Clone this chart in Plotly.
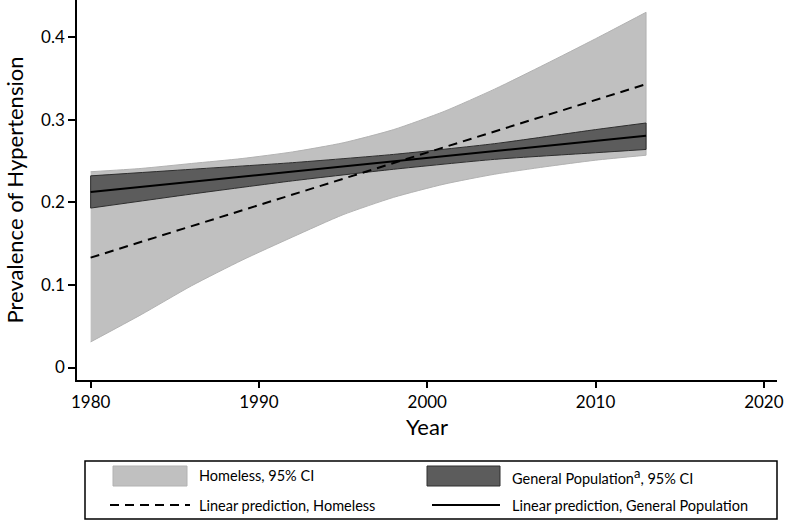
import plotly.graph_objects as go

# ---------------- data ----------------
band_years = [1980, 1983, 1986, 1989, 1992, 1995, 1998, 2001, 2004, 2007, 2010, 2013]
homeless_upper = [0.237, 0.241, 0.247, 0.253, 0.261, 0.272, 0.288, 0.310, 0.337, 0.367, 0.398, 0.430]
homeless_lower = [0.031, 0.064, 0.099, 0.130, 0.158, 0.185, 0.206, 0.222, 0.234, 0.243, 0.251, 0.257]

gen_years = [1980, 1986, 1992, 1998, 2004, 2010, 2013]
gen_upper = [0.232, 0.240, 0.248, 0.258, 0.271, 0.288, 0.296]
gen_lower = [0.193, 0.210, 0.226, 0.240, 0.252, 0.260, 0.264]

pred_years = [1980, 2013]
homeless_pred = [0.133, 0.343]
gen_pred = [0.2125, 0.2805]

x_ticks = [1980, 1990, 2000, 2010, 2020]
y_ticks = [0, 0.1, 0.2, 0.3, 0.4]
y_ticklabels = ["0", "0.1", "0.2", "0.3", "0.4"]

legend_labels = ["Homeless, 95% CI",
                 "General Population<sup><span style='font-size:13px'>a</span></sup>, 95% CI",
                 "Linear prediction, Homeless", "Linear prediction, General Population"]

# ---------------- styling ----------------
FONT = "Lato"
LIGHT = "#c0c0c0"
LIGHT_EDGE = "#b2b2b2"
DARK = "#5c5c5c"
DARK_EDGE = "#2e2e2e"

W, H = 785, 523
ML, MR, MT, MB = 77, 8, 0, 143
PW, PH = W - ML - MR, H - MT - MB


def px_x(px):
    return (px - ML) / PW


def px_y(py):
    return (MT + PH - py) / PH


fig = go.Figure()

# Homeless CI band
fig.add_trace(go.Scatter(x=band_years, y=homeless_lower, mode="lines",
                         line=dict(color=LIGHT_EDGE, width=1, shape="spline", smoothing=0.6),
                         showlegend=False, hoverinfo="skip"))
fig.add_trace(go.Scatter(x=band_years, y=homeless_upper, mode="lines", fill="tonexty",
                         fillcolor=LIGHT,
                         line=dict(color=LIGHT_EDGE, width=1, shape="spline", smoothing=0.6),
                         showlegend=False, hoverinfo="skip"))
fig.add_trace(go.Scatter(x=[band_years[-1], band_years[-1]], y=[homeless_lower[-1], homeless_upper[-1]],
                         mode="lines", line=dict(color=LIGHT_EDGE, width=1),
                         showlegend=False, hoverinfo="skip"))

# General population CI band
fig.add_trace(go.Scatter(x=gen_years, y=gen_lower, mode="lines",
                         line=dict(color=DARK_EDGE, width=1, shape="spline", smoothing=0.6),
                         showlegend=False, hoverinfo="skip"))
fig.add_trace(go.Scatter(x=gen_years, y=gen_upper, mode="lines", fill="tonexty",
                         fillcolor=DARK,
                         line=dict(color=DARK_EDGE, width=1, shape="spline", smoothing=0.6),
                         showlegend=False, hoverinfo="skip"))
fig.add_trace(go.Scatter(x=[gen_years[0], gen_years[0]], y=[gen_lower[0], gen_upper[0]],
                         mode="lines", line=dict(color=DARK_EDGE, width=1),
                         showlegend=False, hoverinfo="skip"))
fig.add_trace(go.Scatter(x=[gen_years[-1], gen_years[-1]], y=[gen_lower[-1], gen_upper[-1]],
                         mode="lines", line=dict(color=DARK_EDGE, width=1),
                         showlegend=False, hoverinfo="skip"))

# Linear predictions
fig.add_trace(go.Scatter(x=pred_years, y=homeless_pred, mode="lines",
                         line=dict(color="black", width=2, dash="9px,6px"),
                         showlegend=False, hoverinfo="skip"))
fig.add_trace(go.Scatter(x=pred_years, y=gen_pred, mode="lines",
                         line=dict(color="black", width=2),
                         showlegend=False, hoverinfo="skip"))

# ---------------- manual legend ----------------
shapes = []
shapes.append(dict(type="rect", xref="paper", yref="paper",
                   x0=px_x(85), x1=px_x(777), y0=px_y(519), y1=px_y(461),
                   line=dict(color="black", width=1.5), fillcolor="white", layer="above"))
shapes.append(dict(type="rect", xref="paper", yref="paper",
                   x0=px_x(113), x1=px_x(187), y0=px_y(486), y1=px_y(466),
                   line=dict(color=LIGHT_EDGE, width=1), fillcolor=LIGHT, layer="above"))
shapes.append(dict(type="rect", xref="paper", yref="paper",
                   x0=px_x(427), x1=px_x(500), y0=px_y(486), y1=px_y(466),
                   line=dict(color=DARK_EDGE, width=1), fillcolor=DARK, layer="above"))
shapes.append(dict(type="line", xref="paper", yref="paper",
                   x0=px_x(110), x1=px_x(190), y0=px_y(505), y1=px_y(505),
                   line=dict(color="black", width=2, dash="9px,6px"), layer="above"))
shapes.append(dict(type="line", xref="paper", yref="paper",
                   x0=px_x(432), x1=px_x(500), y0=px_y(505), y1=px_y(505),
                   line=dict(color="black", width=2), layer="above"))

annotations = []
legend_pos = [(197, 476), (510, 476), (197, 505), (510, 505)]
for lab, (lx, ly) in zip(legend_labels, legend_pos):
    annotations.append(dict(text=lab, xref="paper", yref="paper", x=px_x(lx), y=px_y(ly),
                            xanchor="left", yanchor="middle", showarrow=False,
                            font=dict(family=FONT, size=14.5, color="black")))

fig.update_layout(
    width=W, height=H,
    margin=dict(l=ML, r=MR, t=MT, b=MB, pad=0),
    paper_bgcolor="white", plot_bgcolor="white",
    font=dict(family=FONT, color="black"),
    shapes=shapes, annotations=annotations,
    showlegend=False,
)

fig.update_xaxes(
    range=[1979.19, 2020.78], tickvals=x_ticks, ticktext=[str(v) for v in x_ticks],
    showline=True, linecolor="black", linewidth=1.5, ticks="outside", ticklen=6,
    tickwidth=1.5, tickcolor="black", showgrid=False, zeroline=False,
    tickfont=dict(family=FONT, size=17, color="black"),
    title=dict(text="Year", font=dict(family=FONT, size=22, color="black"), standoff=8),
)
fig.update_yaxes(
    range=[-0.0151, 0.4449], tickvals=y_ticks, ticktext=y_ticklabels,
    showline=True, linecolor="black", linewidth=1.5, ticks="outside", ticklen=7,
    tickwidth=1.5, tickcolor="black", showgrid=False, zeroline=False,
    tickfont=dict(family=FONT, size=17, color="black"),
    title=dict(text="Prevalence of Hypertension", font=dict(family=FONT, size=22, color="black"),
               standoff=11),
)

fig.write_html("out.html", config={"displayModeBar": False},
               post_script="document.body.style.margin='0';")
